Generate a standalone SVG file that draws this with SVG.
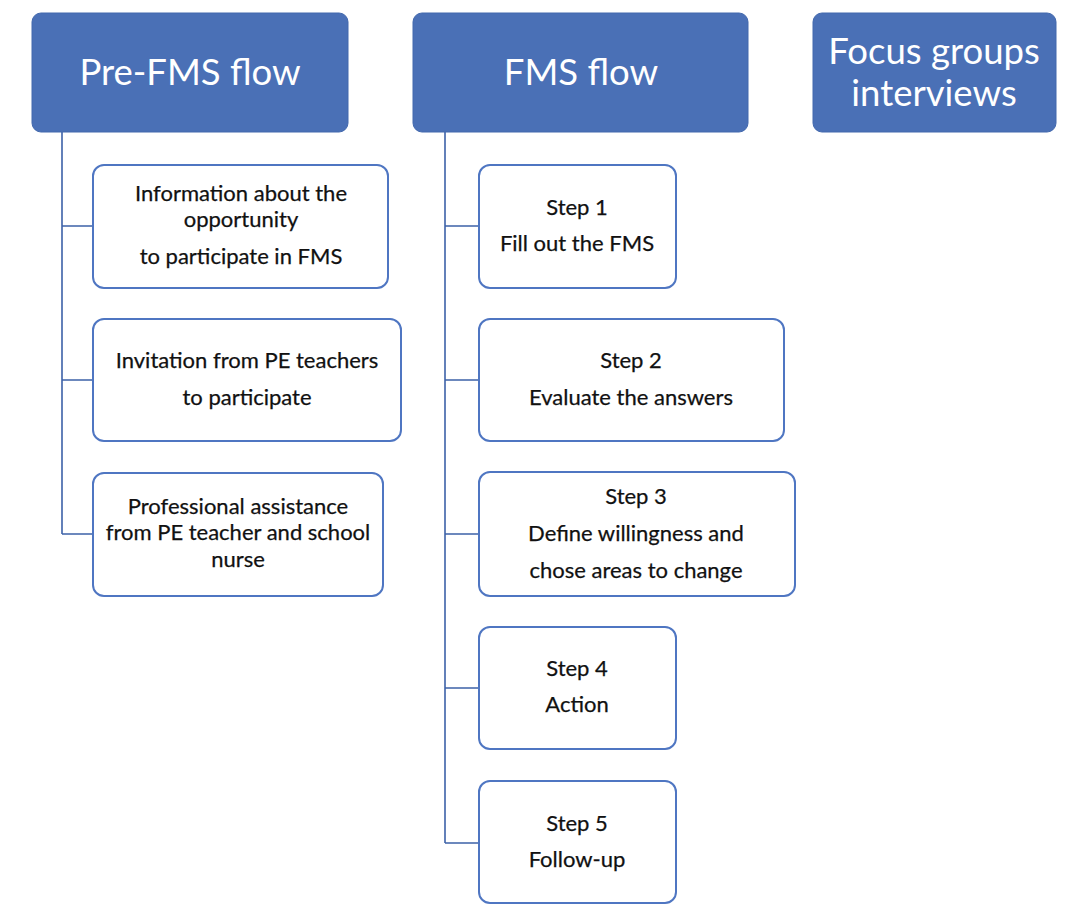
<svg xmlns="http://www.w3.org/2000/svg" width="1070" height="904" viewBox="0 0 1070 904">
<style>
.hdr{fill:#4a70b6;stroke:#4268ad;stroke-width:1}
.box{fill:#ffffff;stroke:#4f76c2;stroke-width:2}
.ht{font-family:Lato,"Open Sans",sans-serif;font-size:36.5px;fill:#ffffff;text-anchor:middle}
.t{font-family:Lato,"Open Sans",sans-serif;font-size:22px;fill:#111111;stroke:#111111;stroke-width:0.25;text-anchor:middle}
.c{fill:none;stroke:#3d62a8;stroke-width:1.6}
</style>
<rect width="1070" height="904" fill="#ffffff"/>
<g id="connectors">
<path class="c" d="M62 132V534M62 226H93M62 380H93M62 534H93"/>
<path class="c" d="M445 132V843M445 226H479M445 380H479M445 534H479M445 688H479M445 843H479"/>
</g>
<g id="pre-fms">
<rect class="hdr" x="32" y="13" width="316" height="119" rx="9"/>
<text class="ht" x="190" y="85">Pre-FMS flow</text>
</g>
<g id="fms">
<rect class="hdr" x="413" y="13" width="335" height="119" rx="9"/>
<text class="ht" x="581" y="85">FMS flow</text>
</g>
<g id="focus">
<rect class="hdr" x="813" y="13" width="243" height="119" rx="9"/>
<text class="ht" x="934" y="64">Focus groups</text>
<text class="ht" x="934" y="106">interviews</text>
</g>
<g id="info">
<rect class="box" x="93" y="165" width="295" height="123" rx="11"/>
<text class="t" x="241" y="201">Information about the</text>
<text class="t" x="241" y="227">opportunity</text>
<text class="t" x="241" y="264">to participate in FMS</text>
</g>
<g id="invitation">
<rect class="box" x="93" y="319" width="308" height="122" rx="11"/>
<text class="t" x="247" y="368">Invitation from PE teachers</text>
<text class="t" x="247" y="405">to participate</text>
</g>
<g id="assistance">
<rect class="box" x="93" y="473" width="290" height="123" rx="11"/>
<text class="t" x="238" y="514">Professional assistance</text>
<text class="t" x="238" y="540">from PE teacher and school</text>
<text class="t" x="238" y="567">nurse</text>
</g>
<g id="step1">
<rect class="box" x="479" y="165" width="197" height="123" rx="11"/>
<text class="t" x="577" y="215">Step 1</text>
<text class="t" x="577" y="251">Fill out the FMS</text>
</g>
<g id="step2">
<rect class="box" x="479" y="319" width="305" height="122" rx="11"/>
<text class="t" x="631" y="368">Step 2</text>
<text class="t" x="631" y="405">Evaluate the answers</text>
</g>
<g id="step3">
<rect class="box" x="479" y="472" width="316" height="124" rx="11"/>
<text class="t" x="636" y="504">Step 3</text>
<text class="t" x="636" y="541">Define willingness and</text>
<text class="t" x="636" y="578">chose areas to change</text>
</g>
<g id="step4">
<rect class="box" x="479" y="627" width="197" height="122" rx="11"/>
<text class="t" x="577" y="676">Step 4</text>
<text class="t" x="577" y="712">Action</text>
</g>
<g id="step5">
<rect class="box" x="479" y="781" width="197" height="122" rx="11"/>
<text class="t" x="577" y="831">Step 5</text>
<text class="t" x="577" y="867">Follow-up</text>
</g>
</svg>
